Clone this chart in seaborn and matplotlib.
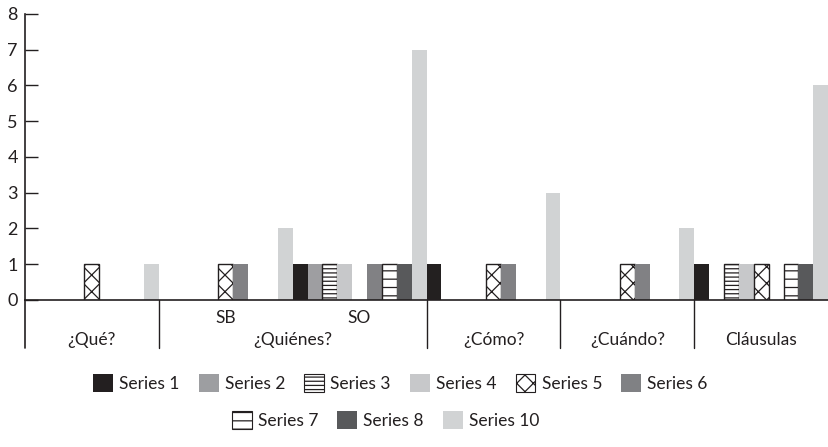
import pandas as pd
import matplotlib
matplotlib.use("Agg")
import matplotlib.pyplot as plt
from matplotlib.patches import Patch
import seaborn as sns

# Categories (leaf level) and group labels under them
categorias = ["¿Qué?", "SB", "SO", "¿Cómo?", "¿Cuándo?", "Cláusulas"]
grupos = ["¿Qué?", "¿Quiénes?", "¿Quiénes?", "¿Cómo?", "¿Cuándo?", "Cláusulas"]
sub_etiquetas = ["", "SB", "SO", "", "", ""]

series = ["Series 1", "Series 2", "Series 3", "Series 4", "Series 5",
          "Series 6", "Series 7", "Series 8", "Series 10"]

# values per series, one per category
s1 = [0, 0, 1, 1, 0, 1]
s2 = [0, 0, 1, 0, 0, 0]
s3 = [0, 0, 1, 0, 0, 1]
s4 = [0, 0, 1, 0, 0, 1]
s5 = [1, 1, 0, 1, 1, 1]
s6 = [0, 1, 1, 1, 1, 0]
s7 = [0, 0, 1, 0, 0, 1]
s8 = [0, 0, 1, 0, 0, 1]
s10 = [1, 2, 7, 3, 2, 6]
valores = [s1, s2, s3, s4, s5, s6, s7, s8, s10]

# look of each series: fill colour, hatch
estilos = {
    "Series 1": ("#231f20", None),
    "Series 2": ("#9d9ea1", None),
    "Series 3": ("white", "----"),
    "Series 4": ("#c7c8ca", None),
    "Series 5": ("white", "xx"),
    "Series 6": ("#808184", None),
    "Series 7": ("white", "--"),
    "Series 8": ("#58595b", None),
    "Series 10": ("#d1d3d4", None),
}

# long table, zero bars dropped (slots are still reserved by hue_order)
filas = []
for nombre, vals in zip(series, valores):
    for cat, v in zip(categorias, vals):
        filas.append({"categoria": cat, "serie": nombre, "valor": v})
df = pd.DataFrame(filas)
df = df[df["valor"] > 0]

sns.set_style("white")
plt.rcParams["font.family"] = ["Lato", "DejaVu Sans"]
plt.rcParams["hatch.linewidth"] = 0.9
oscuro = "#231f20"

fig = plt.figure(figsize=(8.29, 4.47), dpi=100)
ax = fig.add_axes([0.030, 0.329, 0.969, 0.640])

sns.barplot(data=df, x="categoria", y="valor", hue="serie",
            order=categorias, hue_order=series,
            palette={s: estilos[s][0] for s in series},
            width=1.0, gap=0, dodge=True, errorbar=None,
            legend=False, ax=ax)

for nombre, cont in zip(series, ax.containers):
    color, hatch = estilos[nombre]
    for barra in cont:
        if hatch:
            barra.set_hatch(hatch)
            barra.set_edgecolor(oscuro)
            barra.set_linewidth(1.0)
        else:
            barra.set_edgecolor("none")
            barra.set_linewidth(0)

ax.set_ylim(0, 8)
ax.set_xlim(-0.5, len(categorias) - 0.5)
ax.set_yticks(range(0, 9))
ax.tick_params(axis="y", direction="in", length=9.5, width=1.0,
               color=oscuro, labelsize=13, labelcolor=oscuro, pad=5, left=True)
ax.set_xticks([])
ax.set_xlabel("")
ax.set_ylabel("")
sns.despine(ax=ax, top=True, right=True)
for lado in ["left", "bottom"]:
    ax.spines[lado].set_color(oscuro)
    ax.spines[lado].set_linewidth(1.2)

# lines below the axis: left edge and group separators
abajo = -0.168
ax.axvline(-0.5, ymin=abajo, ymax=0, color=oscuro, lw=1.2, clip_on=False)
for i in range(len(categorias) - 1):
    if grupos[i] != grupos[i + 1]:
        ax.axvline(i + 0.5, ymin=abajo, ymax=0, color=oscuro, lw=1.0, clip_on=False)

trans = ax.get_xaxis_transform()
for i, sub in enumerate(sub_etiquetas):
    if sub:
        ax.text(i, -0.063, sub, transform=trans, ha="center", va="center",
                fontsize=12.5, color=oscuro)

# group labels centred over their categories
vistos = []
for g in grupos:
    if g not in vistos:
        vistos.append(g)
for g in vistos:
    idx = [i for i, x in enumerate(grupos) if x == g]
    ax.text(sum(idx) / len(idx), -0.14, g, transform=trans, ha="center",
            va="center", fontsize=12.5, color=oscuro)

# legend in two centred rows
def manija(nombre):
    color, hatch = estilos[nombre]
    if hatch:
        return Patch(facecolor=color, edgecolor=oscuro, hatch=hatch, linewidth=0.8, label=nombre)
    return Patch(facecolor=color, edgecolor="none", label=nombre)

opciones = dict(frameon=False, fontsize=12.5, handlelength=1.15, handleheight=1.15,
                handletextpad=0.35, columnspacing=1.1, borderaxespad=0, labelcolor=oscuro)
fila1 = series[:6]
fila2 = series[6:]
fig.legend(handles=[manija(s) for s in fila1], ncol=len(fila1), loc="center",
           bbox_to_anchor=(0.483, 0.143), **opciones)
fig.legend(handles=[manija(s) for s in fila2], ncol=len(fila2), loc="center",
           bbox_to_anchor=(0.465, 0.060), **opciones)

fig.savefig("out.png", dpi=100)
